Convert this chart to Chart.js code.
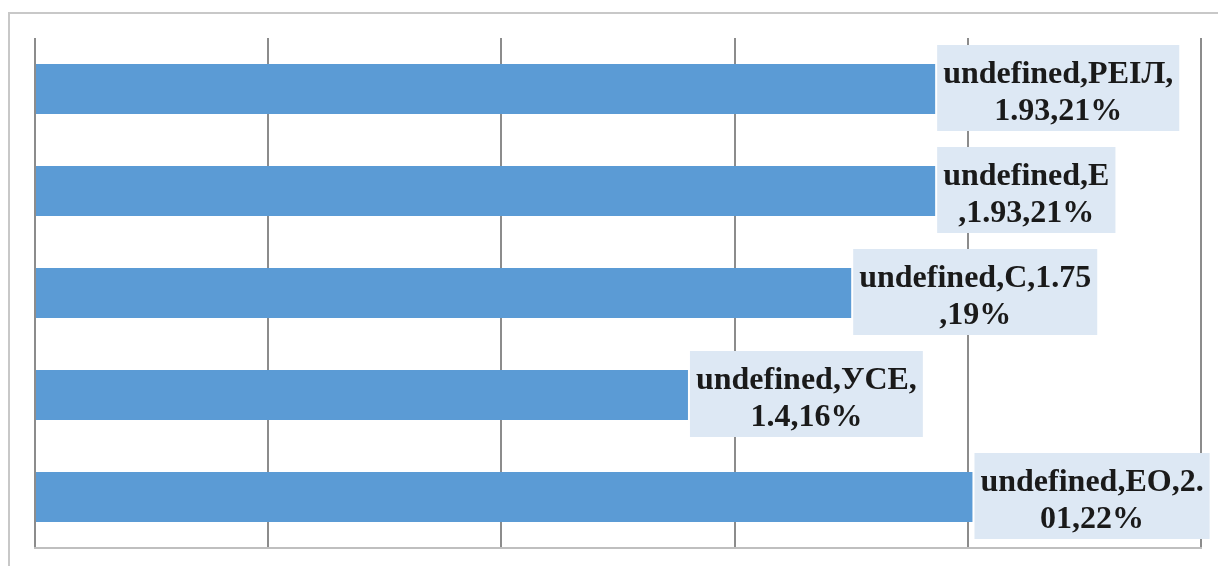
<!DOCTYPE html>
<html>
<head>
<meta charset="utf-8">
<script src="https://cdn.jsdelivr.net/npm/chart.js@4/dist/chart.umd.min.js"></script>
<style>
  html, body { margin: 0; padding: 0; background: #fff; }
  body { width: 1218px; height: 566px; position: relative; overflow: hidden; }
  /* chart frame: only top and left edges are visible in the crop */
  #frame { position: absolute; left: 8px; top: 12px; width: 1300px; height: 700px;
           border-top: 2px solid #c8c8c8; border-left: 2px solid #c8c8c8; }
  #wrap { position: absolute; left: 0; top: 0; width: 1218px; height: 566px; }
</style>
</head>
<body>
<div id="frame"></div>
<div id="wrap"><canvas id="chart"></canvas></div>
<script>
// categories, top to bottom
const categories = ["РЕІЛ", "Е", "С", "УСЕ", "ЕО"];
// bar values
const values = [1.93, 1.93, 1.75, 1.4, 2.01];
// data labels as shown (already wrapped onto two lines)
const labelLines = [
    ["undefined,РЕІЛ,", "1.93,21%"],
    ["undefined,Е", ",1.93,21%"],
    ["undefined,С,1.75", ",19%"],
    ["undefined,УСЕ,", "1.4,16%"],
    ["undefined,ЕО,2.", "01,22%"]
];
// value axis ticks
const xTicks = [0, 0.5, 1, 1.5, 2, 2.5];

// draws the boxed labels just right of each bar end
const boxLabels = {
    id: "boxLabels",
    afterDatasetsDraw(chart) {
        const ctx = chart.ctx;
        const meta = chart.getDatasetMeta(0);
        ctx.save();
        ctx.font = "bold 32px 'Liberation Serif', 'Times New Roman', serif";
        ctx.textAlign = "center";
        ctx.textBaseline = "alphabetic";
        meta.data.forEach((bar, i) => {
            const lines = labelLines[i];
            const w = Math.max(...lines.map(l => ctx.measureText(l).width)) + 12;
            const h = 86;
            const left = bar.x + 2;
            const top = bar.y - 44;
            ctx.fillStyle = "#dde8f4";
            ctx.fillRect(left, top, w, h);
            ctx.fillStyle = "#1a1a1a";
            ctx.fillText(lines[0], left + w / 2, top + 38);
            ctx.fillText(lines[1], left + w / 2, top + 75);
        });
        ctx.restore();
    }
};

new Chart(document.getElementById("chart"), {
    type: "bar",
    data: {
        labels: categories,
        datasets: [{
            data: values,
            backgroundColor: "#5b9bd5",
            barPercentage: 0.49,
            categoryPercentage: 1
        }]
    },
    options: {
        indexAxis: "y",
        responsive: true,
        maintainAspectRatio: false,
        animation: false,
        layout: { padding: { left: 35, right: 17, top: 38, bottom: 18 } },
        plugins: { legend: { display: false }, tooltip: { enabled: false } },
        scales: {
            x: {
                min: 0,
                max: 2.5,
                afterBuildTicks: (axis) => { axis.ticks = xTicks.map(v => ({ value: v })); },
                ticks: { display: false },
                grid: { color: "#8c8c8c", lineWidth: 2, drawTicks: false },
                border: { color: "#bfbfbf", width: 2 }
            },
            y: {
                ticks: { display: false },
                grid: { display: false, drawTicks: false },
                border: { display: false }
            }
        }
    },
    plugins: [boxLabels]
});
</script>
</body>
</html>
